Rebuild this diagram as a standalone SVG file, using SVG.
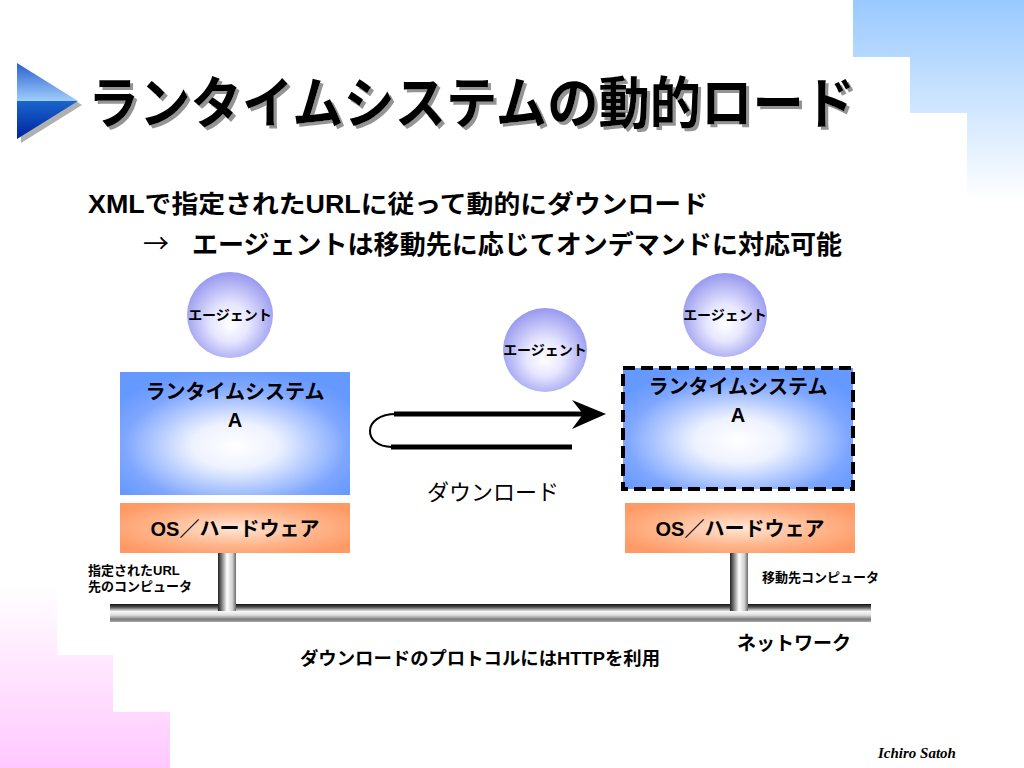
<svg xmlns="http://www.w3.org/2000/svg" width="1024" height="768" viewBox="0 0 1024 768">
<defs>
<style>
.jp{font-family:'Liberation Sans','Noto Sans CJK JP',sans-serif;font-weight:bold;fill:#000}
.jpn{font-family:'Noto Sans CJK JP','Liberation Sans',sans-serif;font-weight:normal;fill:#000}
.mid{text-anchor:middle}
.ln{stroke:#000;fill:none}
</style>
<filter id="shadow" x="-5%" y="-20%" width="110%" height="150%">
<feOffset in="SourceAlpha" dx="3" dy="3" result="off"/>
<feFlood flood-color="#949494"/>
<feComposite in2="off" operator="in" result="sh"/>
<feMerge><feMergeNode in="sh"/><feMergeNode in="SourceGraphic"/></feMerge>
</filter>
<linearGradient id="bgBlue" gradientUnits="userSpaceOnUse" x1="0" y1="0" x2="0" y2="200">
<stop offset="0" stop-color="#99c9ff"/><stop offset="1" stop-color="#ffffff"/>
</linearGradient>
<linearGradient id="bgPink" gradientUnits="userSpaceOnUse" x1="0" y1="585" x2="0" y2="768">
<stop offset="0" stop-color="#ffffff"/><stop offset="1" stop-color="#ffc8ff"/>
</linearGradient>
<linearGradient id="tri" x1="0" y1="0" x2="0" y2="1">
<stop offset="0" stop-color="#2a5fd0"/><stop offset="0.5" stop-color="#9fcdfb"/>
<stop offset="0.5" stop-color="#1a66cc"/><stop offset="1" stop-color="#0022a0"/>
</linearGradient>
<radialGradient id="sphere" cx="0.5" cy="0.55" r="0.55" fx="0.5" fy="0.62">
<stop offset="0" stop-color="#ffffff"/><stop offset="0.4" stop-color="#e6e6ff"/><stop offset="1" stop-color="#9898ef"/>
</radialGradient>
<radialGradient id="rt" cx="0.5" cy="0.6" r="0.62">
<stop offset="0" stop-color="#ffffff"/><stop offset="0.3" stop-color="#eef2ff"/><stop offset="0.78" stop-color="#7ea6ff"/><stop offset="1" stop-color="#6699ff"/>
</radialGradient>
<radialGradient id="os" cx="0.5" cy="0.5" r="0.6">
<stop offset="0" stop-color="#ffe6d6"/><stop offset="0.6" stop-color="#ffb48a"/><stop offset="1" stop-color="#ff9966"/>
</radialGradient>
<linearGradient id="pipeH" x1="0" y1="0" x2="0" y2="1">
<stop offset="0" stop-color="#111"/><stop offset="0.18" stop-color="#555"/><stop offset="0.42" stop-color="#f8f8f8"/><stop offset="0.62" stop-color="#dcdcdc"/><stop offset="0.85" stop-color="#7a7a7a"/><stop offset="1" stop-color="#a8a8a8"/>
</linearGradient>
<linearGradient id="pipeV" x1="0" y1="0" x2="1" y2="0">
<stop offset="0" stop-color="#222"/><stop offset="0.2" stop-color="#777"/><stop offset="0.5" stop-color="#ffffff"/><stop offset="0.8" stop-color="#cfcfcf"/><stop offset="1" stop-color="#6a6a6a"/>
</linearGradient>
</defs>

<rect width="1024" height="768" fill="#ffffff"/>
<g id="background">
<path d="M853,0 H1024 V200 H967 V113 H910 V57 H853 Z" fill="url(#bgBlue)"/>
<path d="M0,585 H57 V655 H113 V712 H170 V768 H0 Z" fill="url(#bgPink)"/>
</g>

<g id="title">
<polygon points="21,67 82,105 21,143" fill="#b0b0b0"/>
<polygon points="17,63 78,101 17,139" fill="url(#tri)"/>
<g transform="translate(88,123) scale(1,1.16)" filter="url(#shadow)">
<text class="jp" x="0" y="0" font-size="48" textLength="767" lengthAdjust="spacingAndGlyphs">ランタイムシステムの動的ロード</text>
</g>
</g>

<g id="bullets">
<text class="jp" x="88" y="213" font-size="25" textLength="620" lengthAdjust="spacingAndGlyphs">XMLで指定されたURLに従って動的にダウンロード</text>
<text class="jpn" x="143" y="253" font-size="26">→</text>
<text class="jp" x="192" y="254" font-size="26" textLength="650" lengthAdjust="spacingAndGlyphs">エージェントは移動先に応じてオンデマンドに対応可能</text>
</g>

<g id="node-agent-left">
<circle cx="230" cy="315" r="43" fill="url(#sphere)"/>
<text class="jp mid" x="230" y="320" font-size="14">エージェント</text>
</g>
<g id="node-agent-mid">
<circle cx="545" cy="350" r="42" fill="url(#sphere)"/>
<text class="jp mid" x="545" y="355" font-size="14">エージェント</text>
</g>
<g id="node-agent-right">
<circle cx="725" cy="315" r="42" fill="url(#sphere)"/>
<text class="jp mid" x="725" y="320" font-size="14">エージェント</text>
</g>

<g id="node-runtime-left">
<rect x="120" y="372" width="230" height="123" fill="url(#rt)"/>
<text class="jp mid" x="235" y="399" font-size="20">ランタイムシステム</text>
<text class="jp mid" x="235" y="427" font-size="20">A</text>
</g>
<g id="node-os-left">
<rect x="120" y="503" width="230" height="50" fill="url(#os)"/>
<text class="jp mid" x="235" y="536" font-size="20">OS／ハードウェア</text>
</g>

<g id="node-runtime-right">
<rect x="623" y="368" width="230" height="121" fill="url(#rt)" stroke="#000" stroke-width="4" stroke-dasharray="12 6"/>
<text class="jp mid" x="738" y="394" font-size="20">ランタイムシステム</text>
<text class="jp mid" x="738" y="422" font-size="20">A</text>
</g>
<g id="node-os-right">
<rect x="625" y="503" width="230" height="50" fill="url(#os)"/>
<text class="jp mid" x="740" y="536" font-size="20">OS／ハードウェア</text>
</g>

<g id="network">
<rect x="110" y="604" width="761" height="18" fill="url(#pipeH)"/>
<rect x="218" y="553" width="18" height="58" fill="url(#pipeV)"/>
<rect x="730" y="553" width="18" height="58" fill="url(#pipeV)"/>
<text class="jp" x="88" y="575" font-size="13">指定されたURL</text>
<text class="jp" x="88" y="591" font-size="13">先のコンピュータ</text>
<text class="jp" x="762" y="582" font-size="13">移動先コンピュータ</text>
<text class="jp" x="737" y="650" font-size="19">ネットワーク</text>
<text class="jp" x="300" y="665" font-size="18" textLength="360" lengthAdjust="spacingAndGlyphs">ダウンロードのプロトコルにはHTTPを利用</text>
</g>

<g id="connectors">
<path class="ln" d="M394,414 H584" stroke-width="5"/>
<polygon points="572,400 606,414 572,429 583,414" fill="#000"/>
<path class="ln" d="M391,447 H572" stroke-width="5"/>
<path class="ln" d="M396,414 C362,414 362,447 392,447" stroke-width="2"/>
<text class="jpn mid" x="493" y="500" font-size="22">ダウンロード</text>
</g>

<text x="878" y="758" font-family="'Liberation Serif',serif" font-style="italic" font-weight="bold" font-size="15" fill="#000">Ichiro Satoh</text>
</svg>
